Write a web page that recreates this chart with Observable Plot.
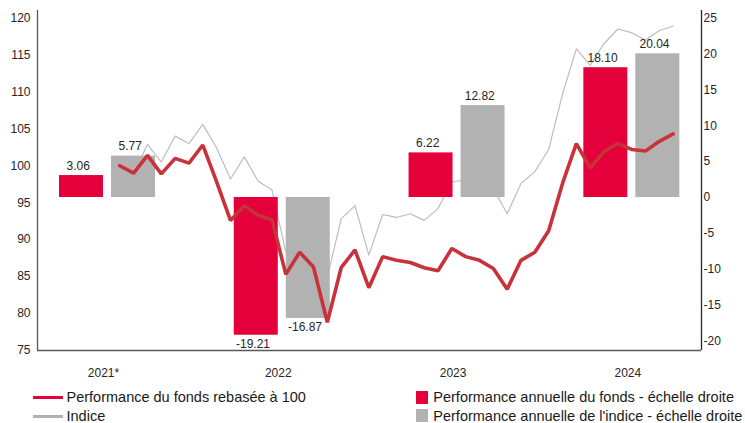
<!DOCTYPE html>
<html><head><meta charset="utf-8">
<script src="https://cdn.jsdelivr.net/npm/d3@7"></script>
<script src="https://cdn.jsdelivr.net/npm/@observablehq/plot@0.6"></script>
<style>
body{margin:0;background:#fff;font-family:"Liberation Sans",Arial,sans-serif;}
#wrap{position:relative;width:745px;height:423px;overflow:hidden;background:#fff;}
#wrap svg{position:absolute;left:0;top:0;}
.leg{position:absolute;font-size:14.5px;color:#1a1a1a;white-space:nowrap;line-height:17px;height:17px;}
.sw{position:absolute;}
</style></head><body><div id="wrap"></div>
<script>
// ---- data ----
const years = [2021, 2022, 2023, 2024];
const yearLabels = ["2021*", "2022", "2023", "2024"];
const fundAnnual = [3.06, -19.21, 6.22, 18.10];
const indexAnnual = [5.77, -16.87, 12.82, 20.04];
const fundRebased = [100, 99.0, 101.4, 98.9, 101.0, 100.35, 102.8, 97.8, 92.6, 94.6, 93.3, 92.7,
  85.3, 88.3, 86.3, 78.8, 86.2, 88.6, 83.5, 87.7, 87.2, 86.9, 86.2, 85.8,
  88.8, 87.7, 87.2, 86.1, 83.3, 87.2, 88.3, 91.2, 97.6, 103.0, 99.7, 101.9,
  103.0, 102.2, 102.0, 103.3, 104.3];
const indexRebased = [100, 98.8, 102.9, 100.5, 104.0, 103.0, 105.6, 102.4, 98.2, 101.2, 97.9, 96.7,
  88.3, 91.0, 89.5, 84.9, 92.8, 94.6, 87.9, 93.4, 93.0, 93.5, 92.6, 94.2,
  97.8, 98.1, 97.5, 96.9, 93.5, 97.6, 99.2, 102.2, 109.7, 115.8, 113.6, 116.5,
  118.5, 118.0, 117.0, 118.3, 118.9];
const legendLines = ["Performance du fonds rebasée à 100", "Indice"];
const legendBars = ["Performance annuelle du fonds - échelle droite", "Performance annuelle de l'indice - échelle droite"];

// ---- layout / style ----
const RED = "#e4003a", GREY = "#b2b2b2", LINE_RED = "#c8323a", LINE_GREY = "#bdbdbd", AXIS = "#595959";
const W = 745, H = 385;
const leftDomain = [75, 121], rightDomain = [-21.34, 26.08];
const yearDomain = [2020.5995, 2024.3986];
const stepDomain = [-5.949, 42.046];
const common = {
  width: W, height: H, marginTop: 10, marginBottom: 35, marginLeft: 37, marginRight: 44,
  style: {background: "transparent", fontFamily: "Liberation Sans, Arial, sans-serif", fontSize: "12px", color: "#262626", overflow: "visible"}
};
const wrap = document.getElementById("wrap");

// Layer 1: index line + left axis
wrap.append(Plot.plot({
  ...common,
  x: {domain: stepDomain, axis: null},
  y: {domain: leftDomain},
  marks: [
    Plot.axisY({anchor: "left", ticks: d3.range(75, 121, 5), tickSize: 0, tickPadding: 7, tickFormat: d => String(d), label: null}),
    Plot.lineY(indexRebased, {stroke: LINE_GREY, strokeWidth: 1.2}),
    Plot.ruleX([stepDomain[0]], {stroke: AXIS, strokeWidth: 1.3})
  ]
}));

// Layer 2: annual bars + right axis + year axis
const bars = years.flatMap((y, i) => [
  {year: y, s: "fonds", v: fundAnnual[i]},
  {year: y, s: "indice", v: indexAnnual[i]}
]);
const gap = 0.0229, bw = 0.2517;
const bx1 = d => d.s === "fonds" ? d.year - gap - bw : d.year + gap;
const bx2 = d => d.s === "fonds" ? d.year - gap : d.year + gap + bw;
const bxc = d => (bx1(d) + bx2(d)) / 2;
const lab = d => d.v.toFixed(2);
wrap.append(Plot.plot({
  ...common,
  x: {domain: yearDomain},
  y: {domain: rightDomain},
  marks: [
    Plot.rect(bars.filter(d => d.s === "fonds"), {x1: bx1, x2: bx2, y1: 0, y2: "v", fill: RED}),
    Plot.rect(bars.filter(d => d.s === "indice"), {x1: bx1, x2: bx2, y1: 0, y2: "v", fill: GREY}),
    Plot.text(bars.filter(d => d.v >= 0), {x: bxc, y: "v", text: lab, dy: -9.5, dx: -3.3, fill: "#262626", fontSize: 12}),
    Plot.text(bars.filter(d => d.v < 0), {x: bxc, y: "v", text: lab, dy: 8.5, dx: -3.3, fill: "#262626", fontSize: 12}),
    Plot.axisY({anchor: "right", ticks: d3.range(-20, 26, 5), tickSize: 0, tickPadding: 2, tickFormat: d => String(d), label: null}),
    Plot.axisX({ticks: years, tickFormat: d => yearLabels[years.indexOf(d)], tickSize: 0, tickPadding: 17.5, dx: -4, label: null}),
    Plot.ruleX([yearDomain[1]], {stroke: "#262626", strokeWidth: 1.3}),
    Plot.ruleY([rightDomain[0]], {stroke: AXIS, strokeWidth: 1.3})
  ]
}));

// Layer 3: fund line on top
wrap.append(Plot.plot({
  ...common,
  x: {domain: stepDomain, axis: null},
  y: {domain: leftDomain, axis: null},
  marks: [
    Plot.lineY(fundRebased, {stroke: LINE_RED, strokeWidth: 3.6, strokeLinejoin: "miter"})
  ]
}));

// Legend
function addEl(cls, css, text) {
  const e = document.createElement("div");
  e.className = cls;
  Object.assign(e.style, css);
  if (text) e.textContent = text;
  wrap.append(e);
}
const rows = [397.7, 416];
addEl("sw", {left: "33px", top: (rows[0] - 1.5) + "px", width: "30px", height: "3px", background: RED});
addEl("sw", {left: "33px", top: (rows[1] - 1.5) + "px", width: "30px", height: "3px", background: GREY});
addEl("leg", {left: "66.5px", top: (rows[0] - 8.5) + "px"}, legendLines[0]);
addEl("leg", {left: "66.5px", top: (rows[1] - 8.5) + "px"}, legendLines[1]);
addEl("sw", {left: "416px", top: "391px", width: "12px", height: "13px", background: RED});
addEl("sw", {left: "416px", top: "408.5px", width: "12px", height: "13px", background: GREY});
addEl("leg", {left: "433.3px", top: (rows[0] - 8.5) + "px"}, legendBars[0]);
addEl("leg", {left: "433.3px", top: (rows[1] - 8.5) + "px"}, legendBars[1]);
</script>
</body></html>
